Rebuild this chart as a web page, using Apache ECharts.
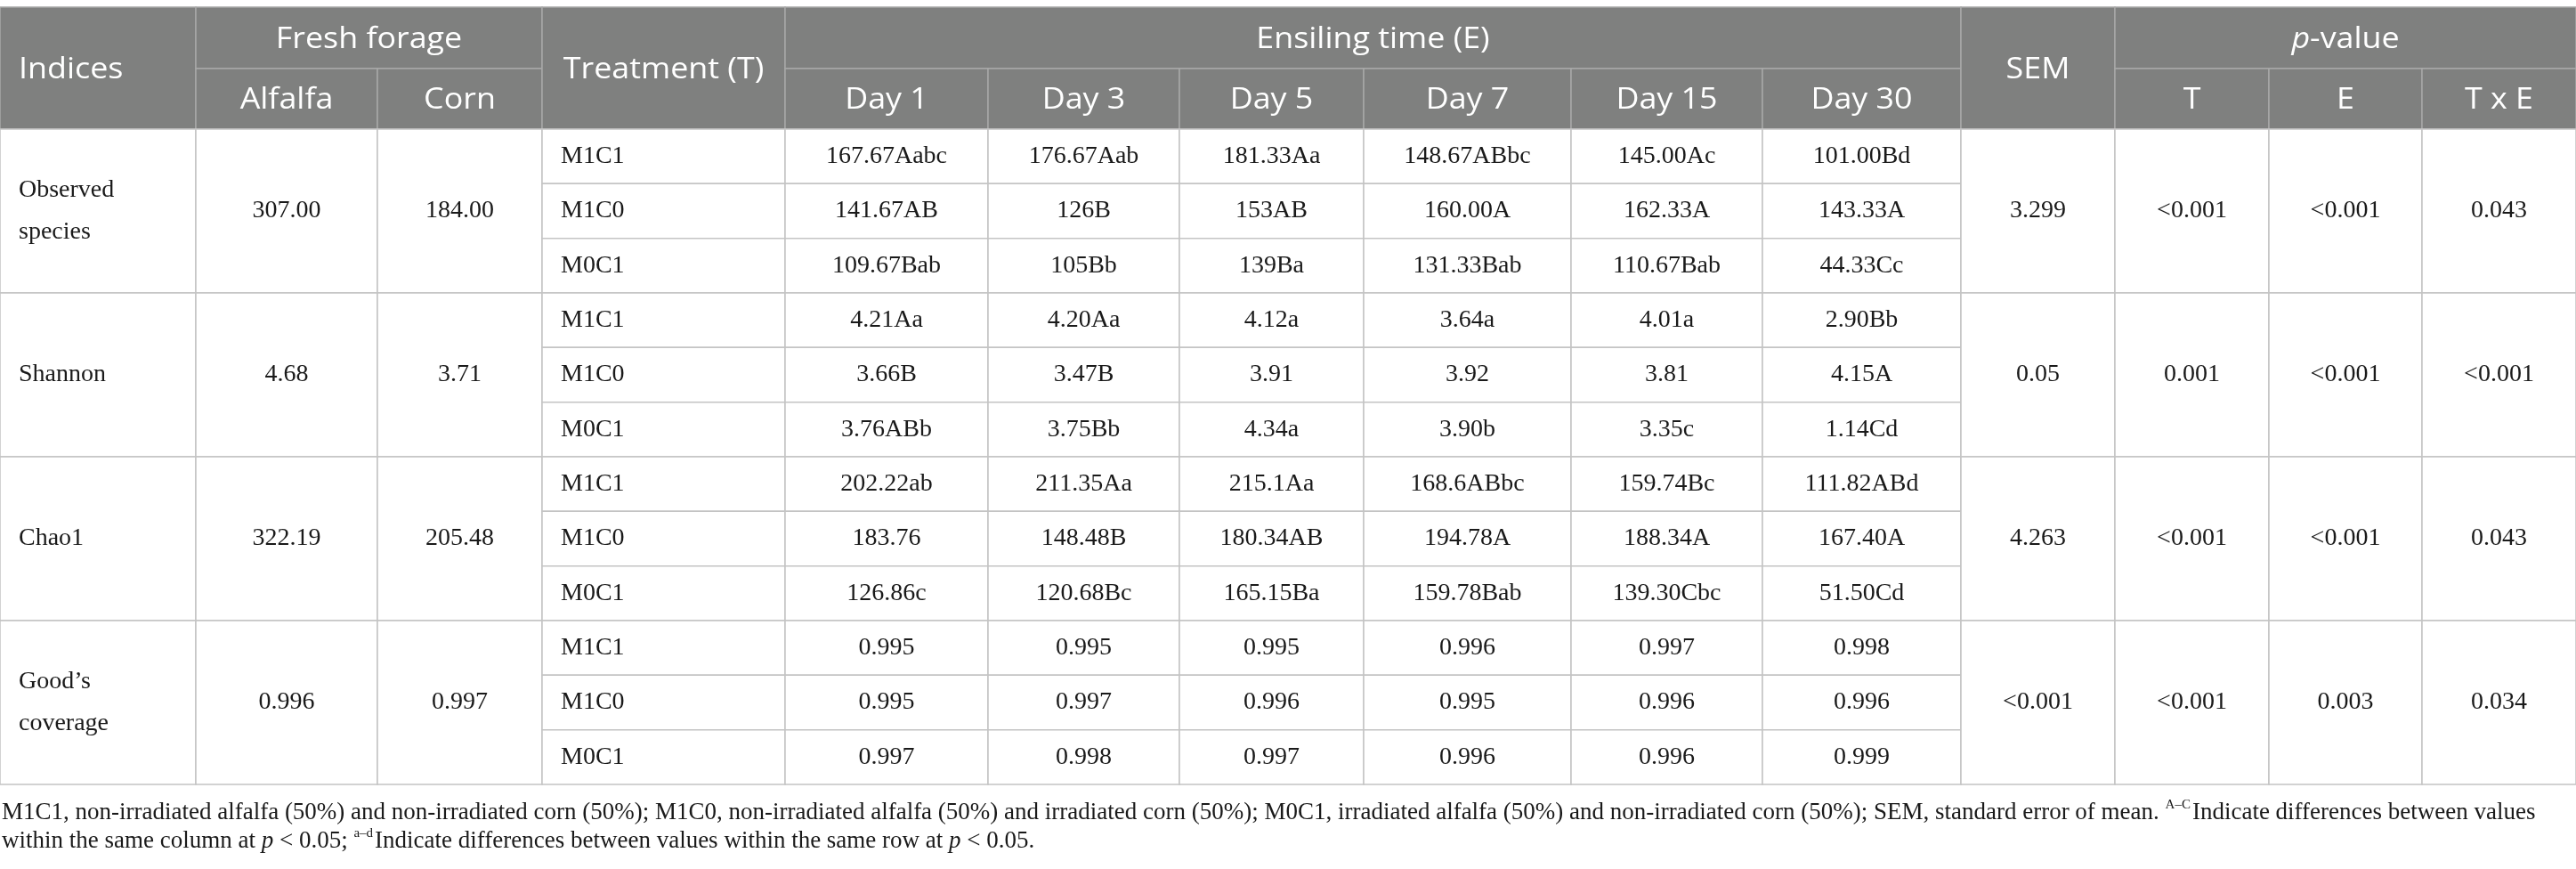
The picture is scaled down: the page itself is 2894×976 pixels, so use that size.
<!DOCTYPE html>
<html>
<head>
<meta charset="utf-8">
<title>Alpha diversity of silage</title>
<script src="https://cdn.jsdelivr.net/npm/echarts@6.0.0/dist/echarts.min.js"></script>
<style>
  html, body { margin: 0; padding: 0; background: #fff; }
  #container { width: 2894px; height: 976px; }
</style>
</head>
<body>
<div id="container"></div>
<script>
// table content
const indices = ['Observed\nspecies', 'Shannon', 'Chao1', 'Good’s\ncoverage'];
const freshForage = ['Alfalfa', 'Corn'];
const treatments = ['M1C1', 'M1C0', 'M0C1'];
const days = ['Day 1', 'Day 3', 'Day 5', 'Day 7', 'Day 15', 'Day 30'];
const pTerms = ['T', 'E', 'T x E'];

const alfalfa = ['307.00', '4.68', '322.19', '0.996'];
const corn = ['184.00', '3.71', '205.48', '0.997'];

const observedSpecies = [
    ['167.67Aabc', '176.67Aab', '181.33Aa', '148.67ABbc', '145.00Ac', '101.00Bd'],
    ['141.67AB', '126B', '153AB', '160.00A', '162.33A', '143.33A'],
    ['109.67Bab', '105Bb', '139Ba', '131.33Bab', '110.67Bab', '44.33Cc']
];
const shannon = [
    ['4.21Aa', '4.20Aa', '4.12a', '3.64a', '4.01a', '2.90Bb'],
    ['3.66B', '3.47B', '3.91', '3.92', '3.81', '4.15A'],
    ['3.76ABb', '3.75Bb', '4.34a', '3.90b', '3.35c', '1.14Cd']
];
const chao1 = [
    ['202.22ab', '211.35Aa', '215.1Aa', '168.6ABbc', '159.74Bc', '111.82ABd'],
    ['183.76', '148.48B', '180.34AB', '194.78A', '188.34A', '167.40A'],
    ['126.86c', '120.68Bc', '165.15Ba', '159.78Bab', '139.30Cbc', '51.50Cd']
];
const goodsCoverage = [
    ['0.995', '0.995', '0.995', '0.996', '0.997', '0.998'],
    ['0.995', '0.997', '0.996', '0.995', '0.996', '0.996'],
    ['0.997', '0.998', '0.997', '0.996', '0.996', '0.999']
];
const sem = ['3.299', '0.05', '4.263', '<0.001'];
const pT = ['<0.001', '0.001', '<0.001', '<0.001'];
const pE = ['<0.001', '<0.001', '<0.001', '0.003'];
const pTxE = ['0.043', '<0.001', '0.043', '0.034'];

const byIndex = [observedSpecies, shannon, chao1, goodsCoverage];
const pValues = [pT, pE, pTxE];

// layout
const colWidths = [220, 204, 185, 273, 228, 215, 207, 233, 215, 223, 173, 173, 172, 173];
const colEdges = [0];
colWidths.forEach(w => colEdges.push(colEdges[colEdges.length - 1] + w));
const headRows = [0, 69, 137];
const rowH = 61.33;
const rowEdge = r => headRows[2] + r * rowH;
const tableH = rowEdge(12);

const cells = [];
function addCell(c0, c1, y0, y1, text, kind, align) {
    cells.push({
        value: [colEdges[c0], colEdges[c1], y0, y1],
        text: text,
        kind: kind,
        align: align || 'center'
    });
}

addCell(0, 1, headRows[0], headRows[2], 'Indices', 'head', 'left');
addCell(1, 3, headRows[0], headRows[1], 'Fresh forage', 'head');
freshForage.forEach((f, i) => addCell(1 + i, 2 + i, headRows[1], headRows[2], f, 'head'));
addCell(3, 4, headRows[0], headRows[2], 'Treatment (T)', 'head');
addCell(4, 10, headRows[0], headRows[1], 'Ensiling time (E)', 'head');
days.forEach((d, i) => addCell(4 + i, 5 + i, headRows[1], headRows[2], d, 'head'));
addCell(10, 11, headRows[0], headRows[2], 'SEM', 'head');
addCell(11, 14, headRows[0], headRows[1], '{i|p}-value', 'head');
pTerms.forEach((t, i) => addCell(11 + i, 12 + i, headRows[1], headRows[2], t, 'head'));

indices.forEach((name, k) => {
    const g0 = rowEdge(k * 3);
    const g1 = rowEdge(k * 3 + 3);
    addCell(0, 1, g0, g1, name, 'body', 'left');
    addCell(1, 2, g0, g1, alfalfa[k], 'body');
    addCell(2, 3, g0, g1, corn[k], 'body');
    treatments.forEach((t, j) => {
        const r0 = rowEdge(k * 3 + j);
        const r1 = rowEdge(k * 3 + j + 1);
        addCell(3, 4, r0, r1, t, 'body', 'left');
        byIndex[k][j].forEach((v, d) => addCell(4 + d, 5 + d, r0, r1, v, 'body'));
    });
    addCell(10, 11, g0, g1, sem[k], 'body');
    pValues.forEach((arr, i) => addCell(11 + i, 12 + i, g0, g1, arr[k], 'body'));
});

const headFont = 'Open Sans';
const bodyFont = 'Liberation Serif';

const footnote =
    'M1C1, non-irradiated alfalfa (50%) and non-irradiated corn (50%); M1C0, non-irradiated alfalfa (50%) and irradiated corn (50%); ' +
    'M0C1, irradiated alfalfa (50%) and non-irradiated corn (50%); SEM, standard error of mean. {sup|A–C}Indicate differences between values\n' +
    'within the same column at {i|p} < 0.05; {sup|a–d}Indicate differences between values within the same row at {i|p} < 0.05.';

const chart = echarts.init(document.getElementById('container'));

chart.setOption({
    animation: false,
    grid: { left: 0, top: 8, width: colEdges[colEdges.length - 1], height: tableH },
    xAxis: { type: 'value', min: 0, max: colEdges[colEdges.length - 1], show: false },
    yAxis: { type: 'value', min: 0, max: tableH, inverse: true, show: false },
    series: [{
        type: 'custom',
        coordinateSystem: 'cartesian2d',
        clip: false,
        encode: { x: [0, 1], y: [2, 3] },
        data: cells,
        renderItem: (params, api) => {
            const cell = cells[params.dataIndex];
            const p0 = api.coord([api.value(0), api.value(2)]);
            const p1 = api.coord([api.value(1), api.value(3)]);
            const head = cell.kind === 'head';
            const tx = cell.align === 'left' ? p0[0] + 21 : (p0[0] + p1[0]) / 2;
            const fontSize = head ? 32 : 28;
            const family = head ? headFont : bodyFont;
            const fill = head ? '#ffffff' : '#1a1a1a';
            return {
                type: 'group',
                children: [{
                    type: 'rect',
                    shape: { x: p0[0], y: p0[1], width: p1[0] - p0[0], height: p1[1] - p0[1] },
                    style: {
                        fill: head ? '#7f807f' : '#ffffff',
                        stroke: head ? '#a8a8a8' : '#c4c4c4',
                        lineWidth: 1.5
                    }
                }, {
                    type: 'text',
                    x: tx,
                    y: (p0[1] + p1[1]) / 2 + (head ? 2 : 0),
                    scaleX: head ? 1.12 : 1,
                    style: {
                        text: cell.text,
                        fill: fill,
                        fontFamily: family,
                        fontSize: fontSize,
                        lineHeight: head ? 38 : 47,
                        align: cell.align,
                        verticalAlign: 'middle',
                        rich: {
                            i: { fontStyle: 'italic', fontFamily: family, fontSize: fontSize, fill: fill }
                        }
                    }
                }]
            };
        }
    }],
    graphic: [{
        type: 'text',
        left: 2,
        top: 897,
        style: {
            text: footnote,
            fontFamily: bodyFont,
            fontSize: 27,
            lineHeight: 32,
            fill: '#1a1a1a',
            rich: {
                sup: { fontFamily: bodyFont, fontSize: 15, fill: '#1a1a1a', verticalAlign: 'top', lineHeight: 32, padding: [0, 2, 0, 0] },
                i: { fontFamily: bodyFont, fontStyle: 'italic', fontSize: 27, fill: '#1a1a1a', lineHeight: 32 }
            }
        }
    }]
});
</script>
</body>
</html>
